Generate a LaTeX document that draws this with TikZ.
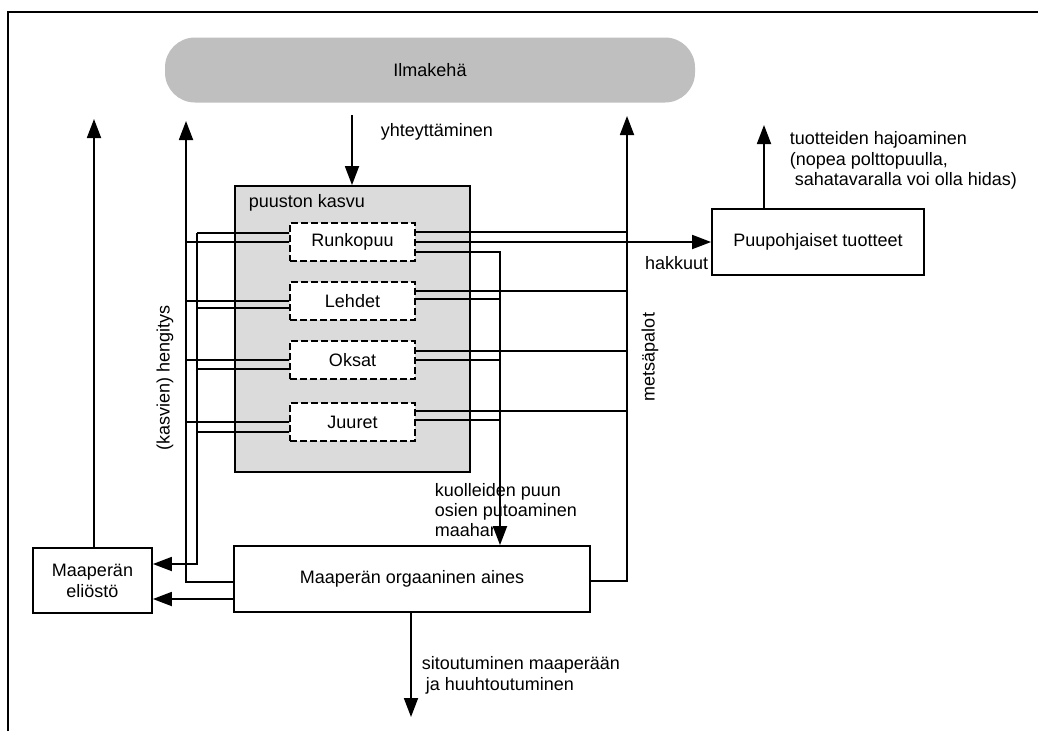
\documentclass[tikz,border=0pt]{standalone}
\usepackage{fontspec}
\setmainfont{Liberation Sans}
\usetikzlibrary{arrows.meta,calc}
\begin{document}
\begin{tikzpicture}[x=1pt,y=-1pt, line width=1.8pt,
  font=\fontsize{18}{21}\selectfont,
  arr/.style={-{Triangle[length=19pt,width=14pt]}},
  box/.style={draw, line width=1.8pt, fill=white, inner sep=0pt, align=center},
  part/.style={draw, dash pattern=on 7pt off 3pt, line width=1.2pt, fill=white,
    minimum width=125pt, minimum height=38pt, inner sep=0pt},
  lbl/.style={inner sep=0pt, align=left}]
\useasboundingbox (0,0) rectangle (1038,731);
\fill[white] (0,0) rectangle (1038,731);
\draw[line width=1.4pt] (8,731) -- (8,12) -- (1038,12);

% main nodes
\node[fill=gray!50, rounded corners=30pt, minimum width=530pt, minimum height=65pt, inner sep=0pt] (atm) at (430,70) {Ilmakehä};
\node[draw, fill=gray!28, line width=1.8pt, minimum width=235pt, minimum height=286pt, inner sep=0pt] (kasvu) at (352.5,329) {};
\node[lbl, anchor=west] (kasvulbl) at (248,203) {puuston kasvu};
\node[part] (runko) at (352.5,242) {Runkopuu};
\node[part] (lehdet) at (352.5,301) {Lehdet};
\node[part] (oksat) at (352.5,360) {Oksat};
\node[part] (juuret) at (352.5,422) {Juuret};
\node[box, minimum width=119pt, minimum height=65pt] (elio) at (92.5,580.5) {Maaperän\\eliöstö};
\node[box, minimum width=356pt, minimum height=66pt] (org) at (412,579) {Maaperän orgaaninen aines};
\node[box, minimum width=212pt, minimum height=66pt] (prod) at (818,242) {Puupohjaiset tuotteet};

% labels
\node[lbl, anchor=west] (yht) at (380,132) {yhteyttäminen};
\node[lbl, anchor=east] (hak) at (709,263) {hakkuut};
\node[lbl, rotate=90] (mets) at (650,357) {metsäpalot};
\node[lbl, rotate=90] (hen) at (165,378) {(kasvien) hengitys};
\node[lbl, anchor=north west, font=\fontsize{18}{20.5}\selectfont] (hajo) at (789,131) {tuotteiden hajoaminen\\(nopea polttopuulla,\\\hspace*{5pt}sahatavaralla voi olla hidas)};
\node[lbl, anchor=west, font=\fontsize{18}{20}\selectfont] (kuol) at (434,510) {kuolleiden puun\\osien putoaminen\\maahan};
\node[lbl, anchor=west] (sit) at (421,675) {sitoutuminen maaperään\\\hspace*{4pt}ja huuhtoutuminen};

% helper coordinates
\coordinate (voTop) at (186,121);
\coordinate (voBot) at (186,582);
\coordinate (viTop) at (197,233);
\coordinate (viBot) at (197,564);
\coordinate (eTop) at (94,119);
\coordinate (mTop) at (627,116);
\coordinate (mBot) at (627,581);
\coordinate (dX) at (500,252);
\coordinate (pTop) at (764,125);
\coordinate (aTop) at (352,115);
\coordinate (sBot) at (411,717);
\coordinate (lowY) at (0,599);

% connectors
\draw[arr] (aTop) -- (aTop |- kasvu.north);
\draw[arr] (org.west |- voBot) -- (voBot) -- (voTop);
\draw[arr] (viTop) -- (viBot) -- (elio.east |- viBot);
\draw[arr] (elio.north -| eTop) -- (eTop);
\draw[arr] (org.west |- lowY) -- (elio.east |- lowY);
\draw[arr] (org.east |- mBot) -- (mBot) -- (mTop);
\draw[arr] (runko.east) -- (prod.west);
\draw[arr] (prod.north -| pTop) -- (pTop);
\draw[arr] (org.south -| sBot) -- (sBot);
\draw[arr] ($(runko.east)+(0,10)$) -| (org.north -| dX);

% left side lines
\draw ($(runko.west)+(0,-9)$) coordinate (r1) -- (r1 -| viTop);
\draw (runko.west) -- (runko.west -| voTop);
\draw (lehdet.west) -- (lehdet.west -| voTop);
\draw ($(lehdet.west)+(0,7)$) coordinate (l1) -- (l1 -| viTop);
\draw (oksat.west) -- (oksat.west -| voTop);
\draw ($(oksat.west)+(0,9)$) coordinate (o1) -- (o1 -| viTop);
\draw (juuret.west) -- (juuret.west -| voTop);
\draw ($(juuret.west)+(0,10)$) coordinate (j1) -- (j1 -| viTop);

% right side lines
\draw ($(runko.east)+(0,-10)$) coordinate (r2) -- (r2 -| mTop);
\draw ($(lehdet.east)+(0,-10)$) coordinate (l2) -- (l2 -| mTop);
\draw ($(lehdet.east)+(0,-2)$) coordinate (l3) -- (l3 -| dX);
\draw ($(oksat.east)+(0,-9)$) coordinate (o2) -- (o2 -| mTop);
\draw (oksat.east) -- (oksat.east -| dX);
\draw ($(juuret.east)+(0,-11)$) coordinate (j2) -- (j2 -| mTop);
\draw ($(juuret.east)+(0,-2)$) coordinate (j3) -- (j3 -| dX);
\end{tikzpicture}
\end{document}
